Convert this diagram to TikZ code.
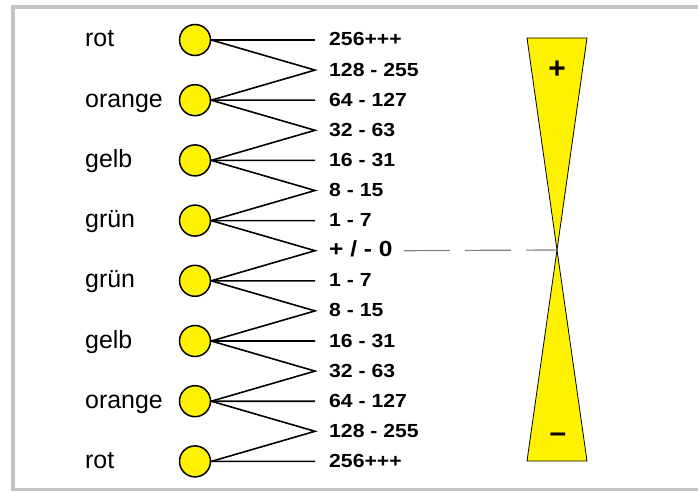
\documentclass[tikz,border=0pt]{standalone}
\usepackage{fontspec}
\setmainfont{Liberation Sans}
\newfontfamily\valfont[FakeStretch=1.12]{Liberation Sans}
\definecolor{framegray}{HTML}{C4C4C4}
\definecolor{dashgray}{HTML}{808080}
\tikzset{
  lamp/.style={circle, draw, fill=yellow, line width=1.5bp, minimum size=31bp, inner sep=0pt},
  colname/.style={anchor=west, inner sep=0pt, text height=12bp, text depth=0bp,
    font=\fontsize{25}{27}\selectfont},
  rangelabel/.style={anchor=west, inner ysep=0pt, inner xsep=14bp, text height=12bp, text depth=0bp,
    font=\valfont\bfseries\fontsize{19}{21}\selectfont},
  wire/.style={line width=1.6bp},
  wedge/.style={fill=yellow, draw=black, line width=0.8bp},
}
\begin{document}
\begin{tikzpicture}[x=1bp,y=-1bp]
\useasboundingbox (0,0) rectangle (698,491);
\draw[framegray, line width=4bp] (702,7.5) -- (13,7.5) -- (13,489.5) -- (702,489.5);

% lamps and colour names
\foreach \i/\name in {1/rot,2/orange,3/gelb,4/grün,5/grün,6/gelb,7/orange,8/rot}
{
  \node[lamp] (c\i) at (195,{40+60.2*(\i-1)}) {};
  \node[colname] (n\i) at (85,{41+60.2*(\i-1)}) {\name};
}

% value ranges
\foreach \k/\lab in {1/{256+++},2/{128 - 255},3/{64 - 127},4/{32 - 63},5/{16 - 31},
  6/{8 - 15},7/{1 - 7},8/{\fontsize{22}{24}\selectfont + / - 0},9/{1 - 7},10/{8 - 15},
  11/{16 - 31},12/{32 - 63},13/{64 - 127},14/{128 - 255},15/{256+++}}
  \node[rangelabel] (l\k) at (315,{40+30.1*(\k-1)}) {\lab};

% wires
\foreach \i in {1,...,8}
{
  \pgfmathtruncatemacro{\k}{2*\i-1}
  \draw[wire] (c\i.east) -- (l\k.west);
}
\foreach \i in {1,...,7}
{
  \pgfmathtruncatemacro{\k}{2*\i}
  \pgfmathtruncatemacro{\j}{\i+1}
  \draw[wire] (c\i.east) -- (l\k.west) -- (c\j.east);
}

% scale
\coordinate (apex) at (557,250);
\draw[wedge] (527,38) -- (587,38) -- (apex) -- cycle;
\draw[wedge] (apex) -- (587,461) -- (527,461) -- cycle;
\node[font=\bfseries\fontsize{30}{32}\selectfont] (plus) at (557,70) {+};
\node[font=\bfseries\fontsize{30}{32}\selectfont] (minus) at (558,438) {–};
\draw[dashgray, line width=1.2bp, dash pattern=on 46bp off 15bp] ([xshift=-3bp]l8.east) -- (apex);
\end{tikzpicture}
\end{document}
